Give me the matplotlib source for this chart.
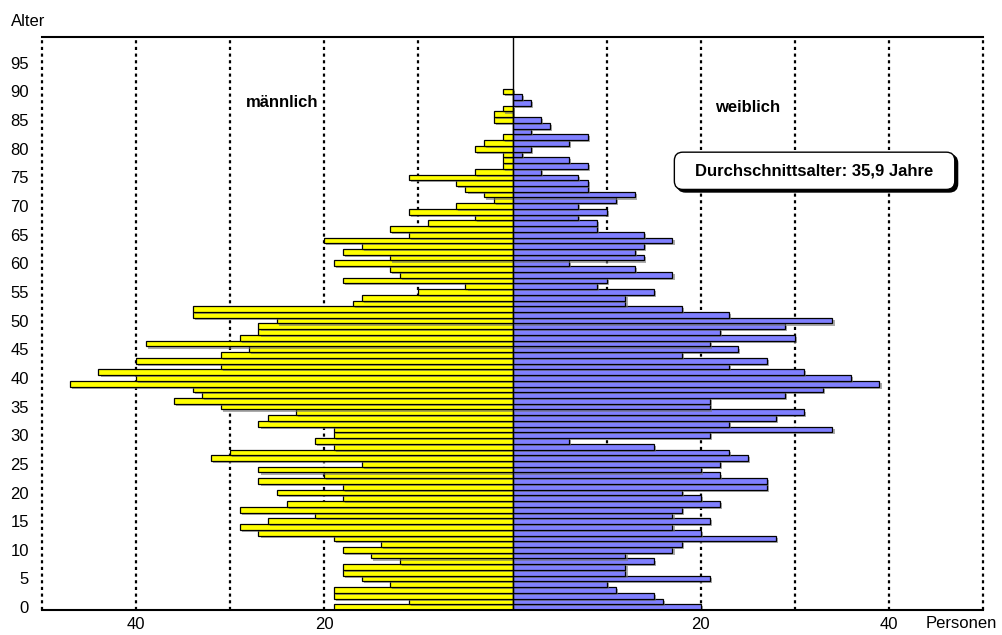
import numpy as np
import matplotlib
matplotlib.use('Agg')
import matplotlib.pyplot as plt
import matplotlib.patheffects as pe
from matplotlib.patches import FancyBboxPatch

plt.rcParams['font.family'] = ['Liberation Sans', 'DejaVu Sans']

# Data: persons per age year (0..90)
ages = np.arange(0, 91)
male = [19, 11, 19, 19, 13, 16, 18, 18, 12, 15,
        18, 14, 19, 27, 29, 26, 21, 29, 24, 18,
        25, 18, 27, 20, 27, 16, 32, 30, 19, 21,
        19, 19, 27, 26, 23, 31, 36, 33, 34, 47,
        40, 44, 31, 40, 31, 28, 39, 29, 27, 27,
        25, 34, 34, 17, 16, 10, 5, 18, 12, 13,
        19, 13, 18, 16, 20, 11, 13, 9, 4, 11,
        6, 2, 3, 5, 6, 11, 4, 1, 1, 1,
        4, 3, 1, 0, 0, 2, 2, 1, 0, 0, 1]
female = [20, 16, 15, 11, 10, 21, 12, 12, 15, 12,
          17, 18, 28, 20, 17, 21, 17, 18, 22, 20,
          18, 27, 27, 22, 20, 22, 25, 23, 15, 6,
          21, 34, 23, 28, 31, 21, 21, 29, 33, 39,
          36, 31, 23, 27, 18, 24, 21, 30, 22, 29,
          34, 23, 18, 12, 12, 15, 9, 10, 17, 13,
          6, 14, 13, 14, 17, 14, 9, 9, 7, 10,
          7, 11, 13, 8, 8, 7, 3, 8, 6, 1,
          2, 6, 8, 2, 4, 3, 0, 0, 2, 1, 0]

y_ticks = list(range(0, 100, 5))
x_ticks = [-40, -20, 20, 40]
x_labels = ['40', '20', '20', '40']
mean_label = 'Durchschnittsalter: 35,9 Jahre'

fig = plt.figure(figsize=(10.02, 6.35), dpi=100)
ax = fig.add_axes([42/1002, 25/635, 941/1002, 573/635])

# dashed gridlines (incl. the outer frame at +-50)
for xv in [-50, -40, -30, -20, -10, 10, 20, 30, 40, 50]:
    ax.axvline(xv, color='black', lw=1.6, ls=(0, (1.4, 1.6)), zorder=1, clip_on=False)

shadow = [pe.SimplePatchShadow(offset=(1.5, -1.5), shadow_rgbFace='0.45', alpha=0.6), pe.Normal()]
bm = ax.barh(ages, -np.array(male), height=1.0, color='#FFFF00', edgecolor='black', lw=0.9, zorder=2)
bf = ax.barh(ages, female, height=1.0, color='#8080FF', edgecolor='black', lw=0.9, zorder=2)
for b in list(bm) + list(bf):
    b.set_path_effects(shadow)

ax.axvline(0, color='black', lw=1.0, zorder=3)

ax.set_xlim(-50, 50)
ax.set_ylim(-0.5, 99.5)
ax.set_yticks(y_ticks)
ax.set_xticks(x_ticks)
ax.set_xticklabels(x_labels)
ax.tick_params(length=0, labelsize=12)
ax.tick_params(axis='x', pad=5)
ax.tick_params(axis='y', pad=9.5)
for s in ['left', 'right']:
    ax.spines[s].set_visible(False)
for s in ['top', 'bottom']:
    ax.spines[s].set_linewidth(1.5)

ax.text(-24.5, 88.1, 'männlich', fontsize=12, fontweight='bold', ha='center', va='center', zorder=4)
ax.text(25.0, 87.2, 'weiblich', fontsize=12, fontweight='bold', ha='center', va='center', zorder=4)

# info box with shadow (x/y pixel scale differs -> mutation_aspect)
asp = (941 / 100) / (573 / 100)
x0, y0, w, h = 17.2, 72.9, 29.8, 6.5
ax.add_patch(FancyBboxPatch((x0 + 0.3, y0 - 0.45), w, h, boxstyle='round,pad=0,rounding_size=0.9',
                            mutation_aspect=asp, fc='black', ec='black', lw=1, zorder=4))
ax.add_patch(FancyBboxPatch((x0, y0), w, h, boxstyle='round,pad=0,rounding_size=0.9',
                            mutation_aspect=asp, fc='white', ec='black', lw=1, zorder=5))
ax.text(x0 + w / 2, y0 + h / 2, mean_label, fontsize=12, fontweight='bold',
        ha='center', va='center', zorder=6)

fig.text(11/1002, 1 - 22/635, 'Alter', fontsize=12, ha='left', va='center')
fig.text(926/1002, 11/635, 'Personen', fontsize=12, ha='left', va='center')

fig.savefig('out.png', dpi=100)
